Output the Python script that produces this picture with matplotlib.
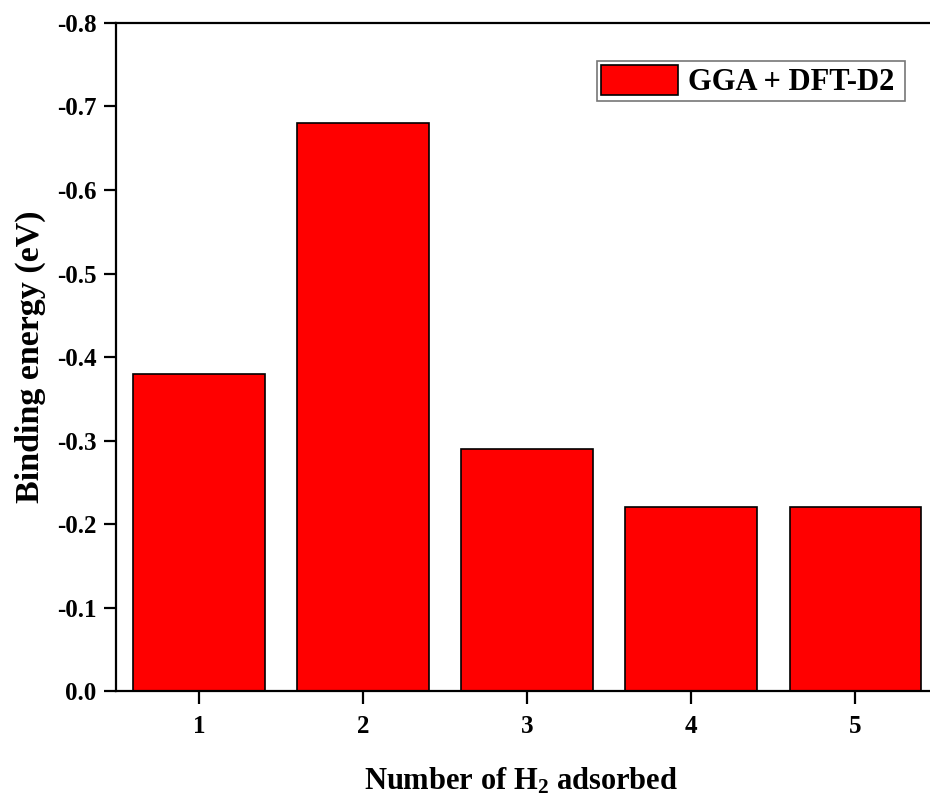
import matplotlib
matplotlib.use("Agg")
import matplotlib.pyplot as plt
from matplotlib.ticker import FormatStrFormatter

plt.rcParams['font.family'] = ['Liberation Serif', 'DejaVu Serif']
plt.rcParams['font.weight'] = 'bold'
plt.rcParams['axes.unicode_minus'] = False
plt.rcParams['mathtext.fontset'] = 'custom'
plt.rcParams['mathtext.rm'] = 'Liberation Serif:bold'
plt.rcParams['mathtext.bf'] = 'Liberation Serif:bold'
plt.rcParams['mathtext.it'] = 'Liberation Serif:bold:italic'

# Binding energy per number of adsorbed H2 molecules
n_h2 = [1, 2, 3, 4, 5]
binding_energy = [-0.38, -0.68, -0.29, -0.22, -0.22]
series_label = 'GGA + DFT-D2'
y_ticks = [0.0, -0.1, -0.2, -0.3, -0.4, -0.5, -0.6, -0.7, -0.8]

fig = plt.figure(figsize=(9.3, 8.01), dpi=100)
ax = fig.add_axes([0.1247, 0.1373, 0.883, 0.834])

ax.bar(n_h2, binding_energy, width=0.8, color='#ff0000', edgecolor='black',
       linewidth=1.2, label=series_label + ' ', zorder=2)

ax.set_xlim(0.494, 5.5)
ax.set_ylim(0.0, -0.8)
ax.set_xticks(n_h2)
ax.set_yticks(y_ticks)
ax.yaxis.set_major_formatter(FormatStrFormatter('%.1f'))

for side in ('left', 'bottom', 'top'):
    ax.spines[side].set_linewidth(1.6)
ax.spines['right'].set_visible(False)

ax.tick_params(axis='both', direction='out', length=9, width=1.6,
               labelsize=18)
ax.tick_params(axis='y', pad=5)
ax.tick_params(axis='x', pad=8)
for lbl in ax.get_xticklabels() + ax.get_yticklabels():
    lbl.set_fontweight('bold')

ax.set_ylabel('Binding energy (eV)', fontsize=24.5, fontweight='bold', labelpad=8)
ax.set_xlabel(r'Number of $\mathrm{H_2}$ adsorbed', fontsize=22,
              fontweight='bold', labelpad=18)
ax.xaxis.set_label_coords(0.493, -0.112)

leg = ax.legend(loc='upper right', bbox_to_anchor=(0.961, 0.943),
                prop={'size': 22, 'weight': 'bold'}, fancybox=False,
                edgecolor='#777777', framealpha=1, handlelength=2.5,
                handleheight=1.15, borderpad=0.12, handletextpad=0.33,
                borderaxespad=0.0)
leg.get_frame().set_linewidth(1.2)

fig.savefig('out.png', dpi=100)
